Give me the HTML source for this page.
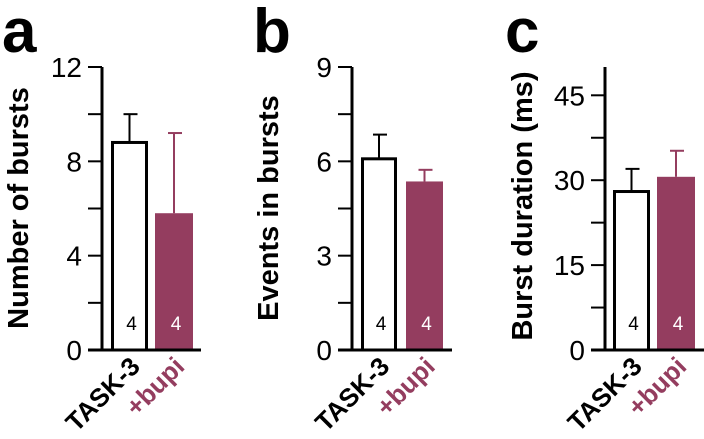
<!DOCTYPE html>
<html><head><meta charset="utf-8"><style>
body{margin:0;background:#fff}
svg{display:block;font-family:"Liberation Sans",Arial,sans-serif}
</style></head><body>
<svg id="c" width="704" height="439" viewBox="0 0 704 439"></svg>
<script>
const panelLetters = ["a","b","c"];
const yTitles = ["Number of bursts","Events in bursts","Burst duration (ms)"];
const categories = ["TASK-3","+bupi"];
const means = [[8.8,5.8],[6.08,5.36],[28.0,30.6]];
const errs = [[10.0,9.2],[6.85,5.73],[32.0,35.2]];
const nLabels = [["4","4"],["4","4"],["4","4"]];
const yMax = [12,9,50];
const yTicks = [[0,4,8,12],[0,3,6,9],[0,15,30,45]];
const yMinor = [[2,6,10],[1.5,4.5,7.5],[7.5,22.5,37.5]];
const layout = [
 {ax:102, b1:[111,148], b2:[155,193], baseEnd:201, letterX:2, titleX:28, titleY:208},
 {ax:352, b1:[361,397], b2:[406,443], baseEnd:452, letterX:253, titleX:278, titleY:208},
 {ax:605, b1:[613,650], b2:[657,695], baseEnd:704, letterX:505, titleX:532, titleY:206}
];
const Y0=350, YTOP=67, PURPLE="#943d5f";
const svg=document.getElementById('c'), NS="http://www.w3.org/2000/svg";
function mk(t,a,p){const e=document.createElementNS(NS,t);for(const k in a)e.setAttribute(k,a[k]);(p||svg).appendChild(e);return e;}
for(let p=0;p<3;p++){
 const L=layout[p];
 const y=v=>Y0-(v/yMax[p])*(Y0-YTOP);
 const g=mk('g',{});
 
 
 const lt=mk('text',{x:L.letterX,y:52,'font-size':62,'font-weight':'bold'},g);lt.textContent=panelLetters[p];
 
 
 const yt=mk('text',{x:0,y:0,'font-size':29,'font-weight':'bold','text-anchor':'middle',transform:`translate(${L.titleX},${L.titleY}) rotate(-90)`},g);yt.textContent=yTitles[p];
 
 
 [L.b1,L.b2].forEach((b,i)=>{
  const cx=(b[0]+b[1])/2, col=i?PURPLE:"#000";
  const er=mk('line',{x1:cx,x2:cx,y1:y(means[p][i]),y2:y(errs[p][i]),stroke:col,'stroke-width':2},g);
  
  
  const cp=mk('line',{x1:cx-6,x2:cx+8,y1:y(errs[p][i]),y2:y(errs[p][i]),stroke:col,'stroke-width':2},g);
  
  
  const r=i?mk('rect',{x:b[0],y:y(means[p][i]),width:b[1]-b[0],height:Y0-y(means[p][i]),fill:PURPLE},g)
          :mk('rect',{x:b[0]+1.5,y:y(means[p][i]),width:b[1]-b[0]-3,height:Y0-y(means[p][i]),fill:'#fff',stroke:'#000','stroke-width':3},g);
  
  
  const n=mk('text',{x:cx+2,y:330,'font-size':19,'text-anchor':'middle',fill:i?'#fff':'#000'},g);n.textContent=nLabels[p][i];
  
  
  const xl=mk('text',{x:0,y:0,'font-size':26,'font-weight':'bold','text-anchor':'end',fill:col,transform:`translate(${cx+12},${368}) rotate(-45)`},g);xl.textContent=categories[i];
  
  
 });
 const ya=mk('line',{x1:L.ax,x2:L.ax,y1:YTOP,y2:Y0+1,stroke:'#000','stroke-width':3},g);
 
 
 const xa=mk('line',{x1:L.ax-14,x2:L.baseEnd,y1:Y0,y2:Y0,stroke:'#000','stroke-width':3},g);
 
 
 yTicks[p].forEach(v=>{
  const t=mk('line',{x1:L.ax-14,x2:L.ax,y1:y(v),y2:y(v),stroke:'#000','stroke-width':2},g);
  
  
  const tl=mk('text',{x:L.ax-20,y:y(v)+10,'font-size':28,'text-anchor':'end'},g);tl.textContent=v;
  
  
 });
 yMinor[p].forEach(v=>{
  const t=mk('line',{x1:L.ax-14,x2:L.ax,y1:y(v),y2:y(v),stroke:'#000','stroke-width':2},g);
  
  
 });
}
</script>
</body></html>
